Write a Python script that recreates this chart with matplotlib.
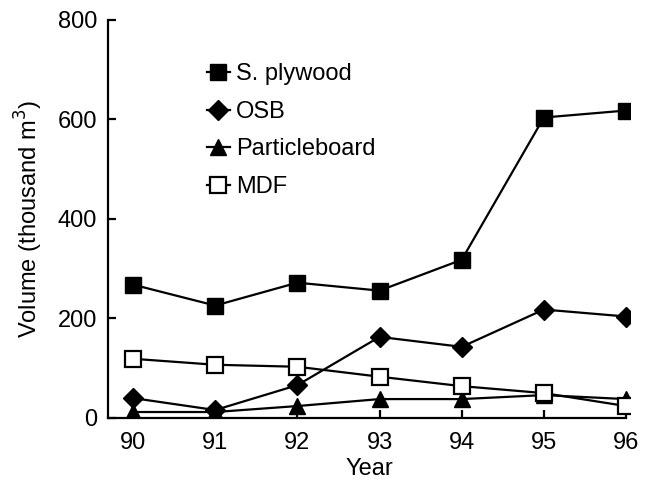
import matplotlib
matplotlib.use("Agg")
import matplotlib.pyplot as plt

years = [90, 91, 92, 93, 94, 95, 96]
plywood = [268, 226, 272, 256, 318, 604, 618]
osb = [40, 16, 66, 163, 143, 218, 204]
particle = [12, 12, 24, 38, 38, 46, 38]
mdf = [119, 107, 103, 83, 64, 50, 24]

plt.rcParams['font.family'] = ['Liberation Sans', 'DejaVu Sans']
fs = 17

fig = plt.figure(figsize=(6.53, 4.83), dpi=100)
ax = fig.add_axes([0.166, 0.1346, 0.799, 0.824])

lw = 1.6
ax.plot(years, plywood, color='black', lw=lw, marker='s', ms=11.5, mfc='black', mec='black', label='S. plywood')
ax.plot(years, osb, color='black', lw=lw, marker='D', ms=10.5, mfc='black', mec='black', label='OSB')
ax.plot(years, particle, color='black', lw=lw, marker='^', ms=12, mfc='black', mec='black', label='Particleboard')
ax.plot(years, mdf, color='black', lw=lw, marker='s', ms=11.5, mfc='white', mec='black', mew=1.6, label='MDF')

ax.set_xlim(89.7, 96.05)
ax.set_ylim(0, 800)
ax.set_xticks(years)
ax.set_yticks([0, 200, 400, 600, 800])
ax.spines['top'].set_visible(False)
ax.spines['right'].set_visible(False)
ax.spines['left'].set_linewidth(1.6)
ax.spines['bottom'].set_linewidth(1.6)
ax.spines['bottom'].set_bounds(89.7, 96)
ax.tick_params(direction='in', length=6, width=1.6, labelsize=fs)
ax.tick_params(axis='x', pad=10)
ax.tick_params(axis='y', pad=8)
ax.set_xlabel('Year', fontsize=fs, labelpad=3)
ax.set_ylabel('Volume (thousand m$^3$)', fontsize=fs, labelpad=9)

leg = ax.legend(loc='upper left', bbox_to_anchor=(0.17, 0.915), frameon=False,
                fontsize=fs, handlelength=1.0, handletextpad=0.25, labelspacing=0.66,
                borderaxespad=0)

fig.savefig('out.png', dpi=100)
